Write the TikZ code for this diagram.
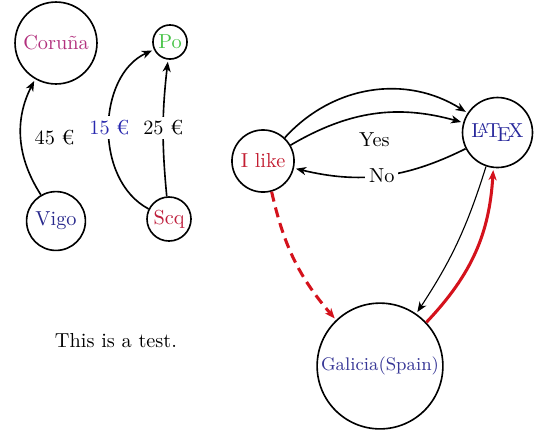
\documentclass[tikz,border=0pt]{standalone}
\usetikzlibrary{arrows.meta}
\definecolor{ccoruna}{RGB}{178,48,125}
\definecolor{cpo}{RGB}{70,195,70}
\definecolor{cvigo}{RGB}{40,40,140}
\definecolor{cscq}{RGB}{190,30,60}
\definecolor{cilike}{RGB}{195,30,50}
\definecolor{clatex}{RGB}{40,40,155}
\definecolor{cgal}{RGB}{55,55,150}
\definecolor{cfifteen}{RGB}{40,40,175}
\definecolor{credge}{RGB}{212,18,28}
\begin{document}
\begin{tikzpicture}[x=0.493pt,y=-0.493pt,
  >={Stealth[length=5pt,width=4pt,inset=1.5pt]},
  city/.style={circle,draw,thick,inner sep=0pt},
  conn/.style={->,thick,shorten >=1pt},
  thinconn/.style={->,line width=0.55pt,shorten >=1pt},
  redconn/.style={->,line width=1.5pt,credge,shorten >=1pt},
  tag/.style={fill=white,inner sep=2pt}]
\useasboundingbox (0,0) rectangle (540,438);
% left graph
\node[city,minimum size=40.4pt,text=ccoruna] (cor) at (56,43) {Coruña};
\node[city,minimum size=29pt,text=cvigo] (vig) at (56,221) {Vigo};
\node[city,minimum size=16.8pt,text=cpo] (po) at (170,42) {Po};
\node[city,minimum size=21.7pt,text=cscq] (scq) at (169,219) {Scq};
\draw[conn] (vig) to[bend left=30] node[right=3pt] {45 €} (cor);
\draw[conn] (scq) to[bend left=64] node[tag,text=cfifteen] {15 €} (po);
\draw[conn] (scq) to[bend left=6] node[tag] {25 €} (po);
% right graph
\node[city,minimum size=30.6pt,text=cilike] (il) at (263,161) {I like};
\node[city,minimum size=34.5pt,text=clatex] (lx) at (497.5,132.5) {\LaTeX};
\node[city,minimum size=62pt,text=cgal] (gal) at (380,366) {\small Galicia(Spain)};
\draw[conn] (il) to[bend left=40] (lx);
\draw[conn] (il) to[bend left=23] node[below=5.5pt] {Yes} (lx);
\draw[conn] (lx) to[bend left=20] node[tag] {No} (il);
\draw[redconn,dash pattern=on 5pt off 3pt] (il) to[bend right=14] (gal);
\draw[thinconn] (lx) to[bend left=8] (gal);
\draw[redconn] (gal) to[bend right=20] (lx);
% text
\node (txt) at (116,341) {This is a test.};
\end{tikzpicture}
\end{document}
